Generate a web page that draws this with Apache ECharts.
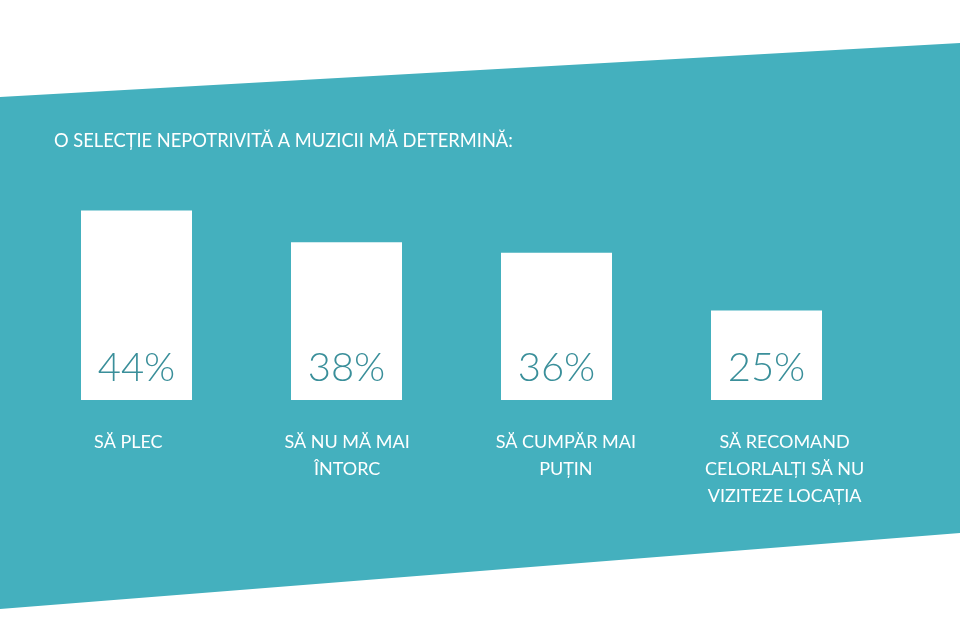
<!DOCTYPE html>
<html>
<head>
<meta charset="utf-8">
<script src="https://cdn.jsdelivr.net/npm/echarts@6/dist/echarts.min.js"></script>
<style>html,body{margin:0;padding:0;background:#fff;}#c{width:960px;height:626px;}</style>
</head>
<body>
<div id="c"></div>
<script>
var titleText = 'O SELECȚIE NEPOTRIVITĂ A MUZICII MĂ DETERMINĂ:';
var categories = ['SĂ PLEC', 'SĂ NU MĂ MAI\nÎNTORC', 'SĂ CUMPĂR MAI\nPUȚIN', 'SĂ RECOMAND\nCELORLALȚI SĂ NU\nVIZITEZE LOCAȚIA'];
var values = [44, 38, 36, 25];

var teal = '#44B0BE';
var chart = echarts.init(document.getElementById('c'), null, {renderer: 'canvas'});
chart.setOption({
  backgroundColor: '#ffffff',
  animation: false,
  graphic: [{
    type: 'polygon',
    z: -10,
    silent: true,
    shape: {points: [[0, 97], [960, 43], [960, 533], [0, 609]]},
    style: {fill: teal}
  }],
  title: {
    text: titleText,
    left: 49,
    top: 127,
    textStyle: {color: '#ffffff', fontSize: 18.3, fontWeight: 'normal', fontFamily: 'Lato'}
  },
  grid: [
    {left: 31.5, width: 840, top: 179, height: 221},
    {left: 19, width: 875, top: 179, height: 221}
  ],
  xAxis: [
    {type: 'category', gridIndex: 0, data: categories, axisLine: {show: false}, axisTick: {show: false}, axisLabel: {show: false}},
    {type: 'category', gridIndex: 1, data: categories, axisLine: {show: false}, axisTick: {show: false},
     axisLabel: {margin: 29, color: '#ffffff', fontSize: 18, lineHeight: 27, fontFamily: 'Lato', align: 'center', interval: 0}}
  ],
  yAxis: [
    {type: 'value', gridIndex: 0, min: 8, max: 50, show: false, splitLine: {show: false}},
    {type: 'value', gridIndex: 1, min: 0, max: 1, show: false, splitLine: {show: false}}
  ],
  series: [{
    type: 'bar',
    xAxisIndex: 0,
    yAxisIndex: 0,
    data: values,
    barWidth: 111,
    itemStyle: {color: '#ffffff'},
    label: {
      show: true,
      position: 'insideBottom',
      distance: 12,
      formatter: '{c}%',
      color: '#3a8f9a',
      fontSize: 40,
      fontWeight: 300,
      fontFamily: 'Lato'
    }
  }]
});
</script>
</body>
</html>
